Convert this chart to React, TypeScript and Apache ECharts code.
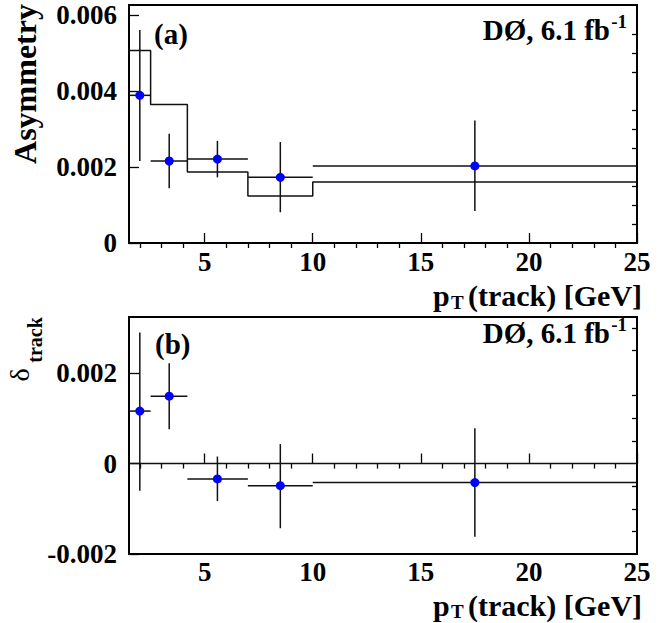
import React, { useEffect, useRef } from "react";
import * as echarts from "echarts";

// ---------- data ----------
const binEdges = [1.5, 2.5, 4.2, 7, 10, 25];
const pointX = [2.0, 3.36, 5.59, 8.5, 17.5];

// panel (a): asymmetry
const asymHist = [0.00507, 0.00365, 0.00187, 0.00124, 0.00161];
const asymVal = [0.00389, 0.00216, 0.00221, 0.00173, 0.00203];
const asymLo = [0.00216, 0.00144, 0.00173, 0.00081, 0.00084];
const asymHi = [0.00561, 0.00288, 0.00269, 0.00266, 0.00323];

// panel (b): delta_track
const deltaVal = [0.00116, 0.00149, -0.00034, -0.00049, -0.00042];
const deltaLo = [-0.0006, 0.00076, -0.00083, -0.00143, -0.00162];
const deltaHi = [0.0029, 0.00222, 0.000155, 0.00043, 0.00078];

// ticks
const xMajorTicks = [5, 10, 15, 20, 25];
const xMinorTicks = [2, 3, 4, 6, 7, 8, 9, 11, 12, 13, 14, 16, 17, 18, 19, 21, 22, 23, 24];
const yMajorA = [0, 0.002, 0.004, 0.006];
const yMinorA = [0.0005, 0.001, 0.0015, 0.0025, 0.003, 0.0035, 0.0045, 0.005, 0.0055];
const yMajorB = [-0.002, 0, 0.002];
const yMinorB = [-0.0015, -0.001, -0.0005, 0.0005, 0.001, 0.0015, 0.0025, 0.003];

const X_MIN = 1.5;
const X_MAX = 25;
const Y_A = [0, 0.00627];
const Y_B = [-0.002, 0.00324];

const FONT = "Liberation Serif";
const TICK_FONT = 27;

function histLine(h: number[]) {
  const pts: number[][] = [];
  h.forEach((v, i) => {
    pts.push([binEdges[i], v]);
    pts.push([binEdges[i + 1], v]);
  });
  return pts;
}

function errData(vals: number[], lo: number[], hi: number[]) {
  return vals.map((v, i) => [pointX[i], v, binEdges[i], binEdges[i + 1], lo[i], hi[i]]);
}

const renderErr = (params: any, api: any) => {
  const x = api.value(0), y = api.value(1);
  const c = api.coord([x, y]);
  const l = api.coord([api.value(2), y]);
  const r = api.coord([api.value(3), y]);
  const b = api.coord([x, api.value(4)]);
  const t = api.coord([x, api.value(5)]);
  const ls = { stroke: "#111", lineWidth: 1.5 };
  return {
    type: "group",
    children: [
      { type: "line", shape: { x1: l[0], y1: l[1], x2: r[0], y2: r[1] }, style: ls },
      { type: "line", shape: { x1: t[0], y1: t[1], x2: b[0], y2: b[1] }, style: ls },
      { type: "circle", shape: { cx: c[0], cy: c[1], r: 4.5 }, style: { fill: "#0000ff" } },
    ],
  };
};

function xAxesFor(gridIndex: number) {
  const base = {
    type: "value",
    gridIndex,
    min: X_MIN,
    max: X_MAX,
    axisLine: { show: false },
    splitLine: { show: false },
    axisLabel: { show: false },
  };
  return [
    {
      ...base,
      axisTick: { show: true, inside: true, length: 10, customValues: xMajorTicks, lineStyle: { color: "#000", width: 1.3 } },
    },
    {
      ...base,
      axisTick: { show: true, inside: true, length: 5, customValues: xMinorTicks, lineStyle: { color: "#000", width: 1.3 } },
    },
  ];
}

function yAxesFor(gridIndex: number, ext: number[], major: number[], minor: number[]) {
  const base = {
    type: "value",
    gridIndex,
    min: ext[0],
    max: ext[1],
    axisLine: { show: false },
    splitLine: { show: false },
    axisLabel: { show: false },
  };
  return [
    {
      ...base,
      axisTick: { show: true, inside: true, length: 10, customValues: major, lineStyle: { color: "#000", width: 1.3 } },
    },
    {
      ...base,
      axisTick: { show: true, inside: true, length: 5, customValues: minor, lineStyle: { color: "#000", width: 1.3 } },
    },
  ];
}

function txt(x: number, y: number, text: string, size: number, opts: any = {}) {
  return {
    type: "text",
    x,
    y,
    rotation: opts.rotation || 0,
    style: {
      text,
      fontFamily: FONT,
      fontWeight: opts.weight || "bold",
      fontSize: size,
      fill: "#000",
      align: opts.align || "left",
      verticalAlign: "middle",
    },
    z: 100,
  };
}

const fmtY = (v: number) => (Math.abs(v) < 1e-12 ? "0" : v.toFixed(3));

export default function App() {
  const ref = useRef<HTMLDivElement>(null);
  useEffect(() => {
    if (!ref.current) return;
    const chart = echarts.init(ref.current, null, { renderer: "svg" });
    const lineStyle = { color: "#111", width: 1.5 };
    const option: any = {
      animation: false,
      backgroundColor: "#fff",
      textStyle: { fontFamily: FONT },
      grid: [
        { left: 129, top: 5, width: 508, height: 238, show: true, borderColor: "#000", borderWidth: 2, backgroundColor: "transparent" },
        { left: 129, top: 317, width: 508, height: 237, show: true, borderColor: "#000", borderWidth: 2, backgroundColor: "transparent" },
      ],
      xAxis: [...xAxesFor(0), ...xAxesFor(1)],
      yAxis: [...yAxesFor(0, Y_A, yMajorA, yMinorA), ...yAxesFor(1, Y_B, yMajorB, yMinorB)],
      series: [
        {
          type: "line",
          xAxisIndex: 0,
          yAxisIndex: 0,
          data: histLine(asymHist),
          symbol: "none",
          lineStyle,
          silent: true,
        },
        {
          type: "custom",
          xAxisIndex: 0,
          yAxisIndex: 0,
          data: errData(asymVal, asymLo, asymHi),
          renderItem: renderErr,
          z: 10,
        },
        {
          type: "line",
          xAxisIndex: 2,
          yAxisIndex: 2,
          data: [
            [X_MIN, 0],
            [X_MAX, 0],
          ],
          symbol: "none",
          lineStyle,
          silent: true,
        },
        {
          type: "custom",
          xAxisIndex: 2,
          yAxisIndex: 2,
          data: errData(deltaVal, deltaLo, deltaHi),
          renderItem: renderErr,
          z: 10,
        },
      ],
    };
    chart.setOption(option);

    // tick labels placed through the axes' own scales
    const tickLabels: any[] = [];
    const xLabelRows = [
      { axis: 0, y: 262 },
      { axis: 2, y: 572 },
    ];
    xLabelRows.forEach((row) => {
      xMajorTicks.forEach((v) => {
        const px = chart.convertToPixel({ xAxisIndex: row.axis }, v) as number;
        tickLabels.push(txt(px, row.y, String(v), TICK_FONT, { align: "center" }));
      });
    });
    const yLabelCols = [
      { axis: 0, ticks: yMajorA },
      { axis: 2, ticks: yMajorB },
    ];
    yLabelCols.forEach((col) => {
      col.ticks.forEach((v) => {
        const py = chart.convertToPixel({ yAxisIndex: col.axis }, v) as number;
        tickLabels.push(txt(117, py, fmtY(v), TICK_FONT, { align: "right" }));
      });
    });

    chart.setOption({
      graphic: [
        ...tickLabels,
        // panel (a)
        txt(154, 34, "(a)", 29),
        txt(610, 30, "DØ, 6.1 fb", 29, { align: "right" }),
        txt(627, 21, "-1", 19, { align: "right" }),
        txt(25, 84, "Asymmetry", 32, { rotation: Math.PI / 2, align: "center" }),
        txt(433, 295, "p", 30),
        txt(451, 302, "T", 19),
        txt(468, 295, "(track) [GeV]", 30),
        // panel (b)
        txt(155, 344, "(b)", 29),
        txt(610, 333, "DØ, 6.1 fb", 29, { align: "right" }),
        txt(627, 324, "-1", 19, { align: "right" }),
        txt(19, 375, "δ", 28, { rotation: Math.PI / 2, align: "center", weight: "normal" }),
        txt(35, 340, "track", 20, { rotation: Math.PI / 2, align: "center" }),
        txt(433, 605, "p", 30),
        txt(451, 611, "T", 19),
        txt(468, 605, "(track) [GeV]", 30),
      ],
    });
    return () => chart.dispose();
  }, []);
  return (
    <div
      ref={ref}
      style={{ position: "fixed", left: 0, top: 0, width: 667, height: 623, background: "#fff" }}
    />
  );
}
